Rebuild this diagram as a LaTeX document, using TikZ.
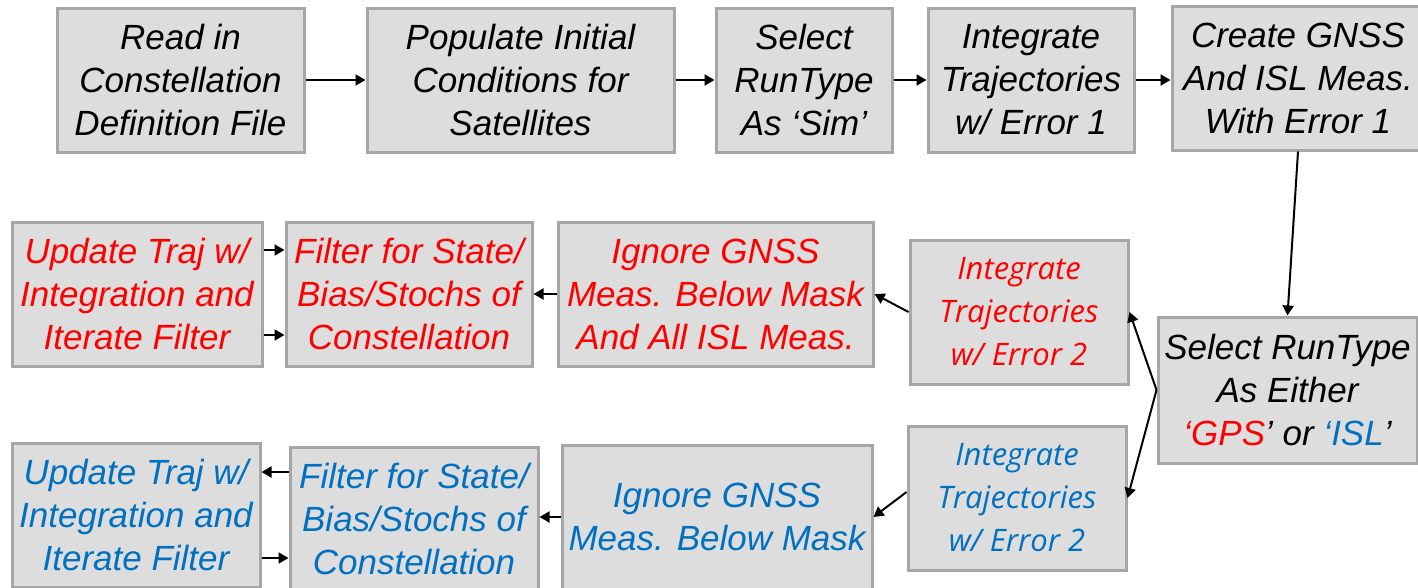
\documentclass[tikz,border=0pt]{standalone}
\usepackage{fontspec}
\setmainfont{Liberation Sans}
\newfontfamily\calfont{Open Sans}
\usetikzlibrary{arrows.meta,calc}
\definecolor{boxfill}{RGB}{221,221,221}
\definecolor{boxline}{RGB}{166,166,166}
\definecolor{fred}{RGB}{255,0,0}
\definecolor{fblue}{RGB}{0,112,192}
\tikzset{
  stepbox/.style={draw=boxline, line width=3pt, fill=boxfill, inner sep=0pt,
    align=center, minimum height=144pt,
    font=\itshape\fontsize{35}{43}\selectfont},
  intbox/.style={stepbox, font=\calfont\itshape\fontsize{31}{43}\selectfont},
  arr/.style={line width=2pt, -{Triangle[length=10pt,width=11pt]}},
}
\begin{document}
\begin{tikzpicture}[x=1pt,y=-1pt]
\useasboundingbox (0,0) rectangle (1418,587);
\clip (0,0) rectangle (1418,587);

% top row: set-up of the simulation
\node[stepbox, minimum width=247pt] (read) at (180.5,80) {Read in\\Constellation\\Definition File};
\node[stepbox, minimum width=307pt] (pop)  at (520.5,80) {Populate Initial\\Conditions for\\Satellites};
\node[stepbox, minimum width=176pt] (sim)  at (804,80)   {Select\\RunType\\As ‘Sim’};
\node[stepbox, minimum width=206pt] (int1) at (1031,80)  {Integrate\\Trajectories\\w/ Error 1};
\node[stepbox, minimum width=252pt] (gnss) at (1298,78)  {Create GNSS\\And ISL Meas.\\With Error 1};

% run type choice
\node[stepbox, minimum width=259pt, minimum height=146pt] (sel) at (1287.5,390)
  {Select RunType\\As Either\\{\color{fred}‘GPS}’ or {\color{fblue}‘ISL}’};

% GPS branch
\node[intbox, minimum width=218pt, text=fred] (intR) at (1019,312) {Integrate\\Trajectories\\w/ Error 2};
\node[stepbox, minimum width=315pt, text=fred] (ignR) at (715.5,294) {Ignore GNSS\\Meas. Below Mask\\And All ISL Meas.};
\node[stepbox, minimum width=246pt, text=fred] (filR) at (409,294) {Filter for State/\\Bias/Stochs of\\Constellation};
\node[stepbox, minimum width=250pt, text=fred] (updR) at (137,294) {Update Traj w/\\Integration and\\Iterate Filter};

% ISL branch
\node[intbox, minimum width=218pt, text=fblue] (intB) at (1017,498) {Integrate\\Trajectories\\w/ Error 2};
\node[stepbox, minimum width=310pt, text=fblue] (ignB) at (717,517) {Ignore GNSS\\Meas. Below Mask};
\node[stepbox, minimum width=248pt, text=fblue] (filB) at (414,519) {Filter for State/\\Bias/Stochs of\\Constellation};
\node[stepbox, minimum width=248pt, text=fblue] (updB) at (136,515) {Update Traj w/\\Integration and\\Iterate Filter};

% connectors of the top row
\draw[arr] (read) -- (pop);
\draw[arr] (pop) -- (sim);
\draw[arr] (sim) -- (int1);
\draw[arr] (int1.east) -- (int1.east -| gnss.west);
\draw[arr] (gnss.south) -- (sel.north);

% branching
\draw[arr] (sel.west) -- (intR.east);
\draw[arr] (sel.west) -- (intB.east);

% GPS branch connectors
\draw[arr] (intR.west) -- (ignR.east);
\draw[arr] (ignR.west) -- (filR.east);
\draw[arr] ($(updR.east)+(0,-44)$) coordinate (ua) -- (ua -| filR.west);
\draw[arr] ($(updR.east)+(0,41)$) coordinate (ub) -- (ub -| filR.west);

% ISL branch connectors
\draw[arr] ($(intB.west)+(0,-6)$) -- (ignB.east);
\draw[arr] (ignB.west) -- (ignB.west -| filB.east);
\draw[arr] ($(filB.west)+(0,-47)$) coordinate (fa) -- (fa -| updB.east);
\draw[arr] ($(updB.east)+(0,43)$) coordinate (fb) -- (fb -| filB.west);
\end{tikzpicture}
\end{document}
